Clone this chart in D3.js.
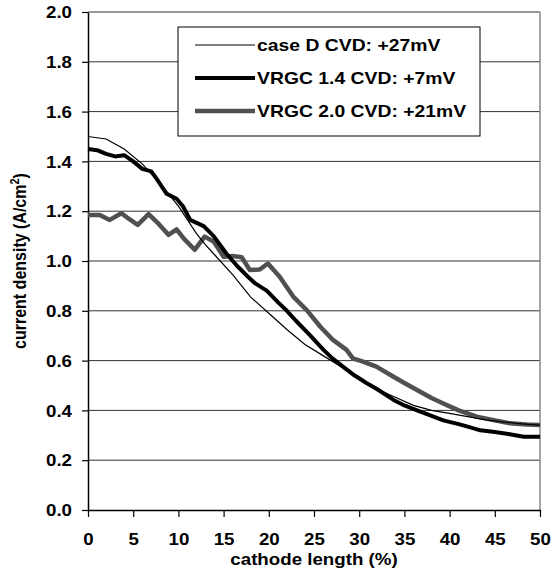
<!DOCTYPE html>
<html>
<head>
<meta charset="utf-8">
<script src="https://cdn.jsdelivr.net/npm/d3@7"></script>
<style>
  body { margin: 0; background: #fff; }
  text { font-family: "Liberation Sans", Arial, sans-serif; font-weight: bold; }
</style>
</head>
<body>
<div id="chart"></div>
<script>
// data (x = % of cathode length, y = A/cm2)
const caseD = [
  [0, 1.50], [2, 1.49], [4, 1.45], [6, 1.39], [8, 1.31], [10, 1.22], [12, 1.11],
  [13, 1.065], [14, 1.025], [16, 0.945], [18, 0.855], [20, 0.79], [22, 0.725],
  [24, 0.665], [26, 0.62], [28, 0.575], [30, 0.525], [32, 0.485], [34, 0.453],
  [36, 0.42], [38, 0.40], [40, 0.388], [42, 0.375], [44, 0.362], [46, 0.353],
  [48, 0.346], [50, 0.341]
];
const vrgc14 = [
  [0, 1.45], [1, 1.445], [2, 1.43], [3, 1.42], [4, 1.425], [5, 1.40], [6, 1.37],
  [7, 1.36], [7.6, 1.33], [8.7, 1.27], [9.8, 1.25], [10.5, 1.22], [11.3, 1.165],
  [12.8, 1.14], [13.9, 1.10], [15.3, 1.03], [16.5, 0.98], [17.6, 0.94], [18.5, 0.91],
  [19.8, 0.88], [21, 0.835], [22, 0.80], [23, 0.76], [24.6, 0.70], [26, 0.645],
  [27, 0.61], [28.2, 0.576], [29.5, 0.54], [30.8, 0.51], [32, 0.485], [33.8, 0.442],
  [35, 0.42], [36.4, 0.40], [37.5, 0.385], [39.3, 0.36], [41, 0.345], [42, 0.335],
  [43.4, 0.32], [45, 0.313], [46.5, 0.305], [48.2, 0.294], [50, 0.294]
];
const vrgc20 = [
  [0, 1.185], [1.3, 1.185], [2.4, 1.165], [3.7, 1.192], [4.5, 1.17], [5.5, 1.145],
  [6.7, 1.188], [7.8, 1.15], [8.9, 1.105], [9.8, 1.127], [10.6, 1.09], [11.8, 1.045],
  [12.9, 1.098], [13.9, 1.078], [15, 1.017], [16, 1.02], [17, 1.015], [17.9, 0.964],
  [19, 0.966], [19.9, 0.99], [21.2, 0.937], [22.7, 0.857], [24.2, 0.803], [25.7, 0.736],
  [27.1, 0.683], [28.6, 0.643], [29.3, 0.609], [30.5, 0.595], [31.9, 0.576],
  [33.8, 0.535], [35, 0.51], [36.4, 0.482], [38, 0.45], [39.3, 0.428], [41, 0.40],
  [43, 0.375], [45, 0.36], [46.7, 0.348], [48.5, 0.343], [50, 0.341]
];
const seriesNames = ["case D CVD: +27mV", "VRGC 1.4 CVD: +7mV", "VRGC 2.0 CVD: +21mV"];
const xTicks = [0, 5, 10, 15, 20, 25, 30, 35, 40, 45, 50];
const yTicks = [0, 0.2, 0.4, 0.6, 0.8, 1.0, 1.2, 1.4, 1.6, 1.8, 2.0];

const W = 553, H = 577;
const sx = 1.17; // the reference text is stretched sideways

const svg = d3.select("#chart").append("svg")
    .attr("width", W)
    .attr("height", H);

const x = d3.scaleLinear().domain([0, 50]).range([88, 540]);
const y = d3.scaleLinear().domain([0, 2]).range([510, 12]);

// gridlines
svg.append("g")
    .selectAll("line")
    .data(yTicks.slice(1))
    .join("line")
    .attr("x1", x(0)).attr("x2", x(50))
    .attr("y1", d => y(d)).attr("y2", d => y(d))
    .style("stroke", "#333")
    .style("stroke-width", 1);

// right border of plot area
svg.append("line")
    .attr("x1", x(50)).attr("x2", x(50))
    .attr("y1", y(2)).attr("y2", y(0))
    .style("stroke", "#888")
    .style("stroke-width", 1.5);

// axes
const yAxis = svg.append("g")
    .attr("transform", `translate(${x(0)},0)`)
    .call(d3.axisLeft(y).tickValues(yTicks).tickFormat(d3.format(".1f")).tickSize(6).tickSizeOuter(0));
yAxis.selectAll("text")
    .attr("x", -16 / sx)
    .attr("dy", "0.35em")
    .attr("transform", `scale(${sx},1)`)
    .style("font-size", "16px")
    .style("fill", "#000");

const xAxis = svg.append("g")
    .attr("transform", `translate(0,${y(0)})`)
    .call(d3.axisBottom(x).tickValues(xTicks).tickFormat(d3.format("d")).tickSize(7).tickSizeOuter(0));
xAxis.selectAll(".tick text")
    .attr("y", 35)
    .attr("dy", 0)
    .attr("transform", `scale(${sx},1)`)
    .style("font-size", "16px")
    .style("fill", "#000");

svg.selectAll(".domain").style("stroke", "#000").style("stroke-width", 1.5);
svg.selectAll(".tick line").style("stroke", "#000").style("stroke-width", 1.2);

// series lines
const line = d3.line().x(d => x(d[0])).y(d => y(d[1]));

svg.append("path")
    .datum(vrgc20)
    .attr("d", line)
    .style("fill", "none")
    .style("stroke", "#505050")
    .style("stroke-width", 4.5)
    .style("stroke-linejoin", "round");

svg.append("path")
    .datum(vrgc14)
    .attr("d", line)
    .style("fill", "none")
    .style("stroke", "#000")
    .style("stroke-width", 4)
    .style("stroke-linejoin", "round");

svg.append("path")
    .datum(caseD)
    .attr("d", line)
    .style("fill", "none")
    .style("stroke", "#000")
    .style("stroke-width", 1.2);

// axis titles
svg.append("text")
    .attr("transform", `translate(${(x(0) + x(50)) / 2},565) scale(${sx},1)`)
    .attr("text-anchor", "middle")
    .style("font-size", "16px")
    .text("cathode length (%)");

const yTitle = svg.append("text")
    .attr("transform", `translate(26,${(y(0) + y(2)) / 2}) scale(${sx},1) rotate(-90)`)
    .attr("text-anchor", "middle")
    .style("font-size", "16px");
yTitle.append("tspan").text("current density (A/cm");
yTitle.append("tspan").attr("dy", -6).style("font-size", "11px").text("2");
yTitle.append("tspan").attr("dy", 6).text(")");

// legend
const legend = svg.append("g");
legend.append("rect")
    .attr("x", 178).attr("y", 27)
    .attr("width", 302).attr("height", 109)
    .style("fill", "#fff")
    .style("stroke", "#000")
    .style("stroke-width", 1);

const legendStyles = [
    { color: "#000", width: 1.2 },
    { color: "#000", width: 4 },
    { color: "#505050", width: 4.5 }
];
const rows = legend.selectAll("g.row")
    .data(seriesNames)
    .join("g")
    .attr("class", "row")
    .attr("transform", (d, i) => `translate(195,${45 + i * 33})`);

rows.append("line")
    .attr("x1", 0).attr("x2", 60)
    .attr("y1", 0).attr("y2", 0)
    .style("stroke", (d, i) => legendStyles[i].color)
    .style("stroke-width", (d, i) => legendStyles[i].width);

rows.append("text")
    .attr("transform", "translate(62,6) scale(1.21,1)")
    .style("font-size", "16px")
    .text(d => d);
</script>
</body>
</html>
